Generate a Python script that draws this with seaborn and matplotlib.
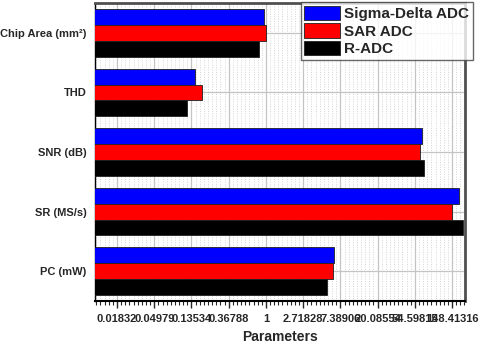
import numpy as np
import pandas as pd
import matplotlib
matplotlib.use("Agg")
import matplotlib.pyplot as plt
import matplotlib.ticker as mticker
import seaborn as sns

# values (log-e axis)
params = ["Chip Area (mm²)", "THD", "SNR (dB)", "SR (MS/s)", "PC (mW)"]
series = ["Sigma-Delta ADC", "SAR ADC", "R-ADC"]
sigma_delta = [0.95, 0.15, 66.6, 181.0, 6.3]
sar = [0.99, 0.18, 63.4, 148.0, 6.0]
r_adc = [0.83, 0.12, 70.0, 198.0, 5.1]
tick_labels = ["0.01832", "0.04979", "0.13534", "0.36788", "1",
               "2.71828", "7.38906", "20.08554", "54.59815", "148.41316"]

df = pd.DataFrame({
    "param": params * 3,
    "value": sigma_delta + sar + r_adc,
    "adc": [s for s in series for _ in params],
})

sns.set_style("white")
plt.rcParams["font.family"] = ["Liberation Sans", "DejaVu Sans"]
plt.rcParams["font.weight"] = "bold"

fig = plt.figure(figsize=(4.8, 3.46), dpi=100)
ax = fig.add_axes([0.198, 0.130, 0.771, 0.861])

sns.barplot(data=df, x="value", y="param", hue="adc", orient="h",
            palette=["#0000ff", "#ff0000", "#000000"], saturation=1,
            width=0.8, edgecolor="#202020", linewidth=0.6, ax=ax, zorder=3)

ax.set_xscale("log", base=np.e)
ax.set_xlim(np.exp(-4.59), np.exp(5.35))
ax.set_ylim(4.5, -0.5)

major = np.exp(np.arange(-4, 6))
ax.xaxis.set_major_locator(mticker.FixedLocator(major))
ax.xaxis.set_major_formatter(mticker.FixedFormatter(tick_labels))
minor = np.exp(np.arange(-41, 49) / 9.0)
ax.xaxis.set_minor_locator(mticker.FixedLocator(minor))
ax.xaxis.set_minor_formatter(mticker.NullFormatter())

ax.tick_params(axis="x", which="major", direction="out", length=5, width=1,
               labelsize=8, pad=4, bottom=True)
ax.tick_params(axis="x", which="minor", direction="out", length=3, width=0.8,
               bottom=True)
ax.tick_params(axis="y", length=0, labelsize=8, pad=6)
for lab in ax.get_xticklabels() + ax.get_yticklabels():
    lab.set_fontweight("bold")

ax.grid(which="major", axis="both", color="#c4c4c4", linewidth=0.9, zorder=0)
ax.grid(which="minor", axis="x", color="#d4d4d4", linewidth=0.7,
        linestyle=(0, (1, 1.5)), zorder=0)
ax.set_axisbelow(True)

for side in ["top", "right"]:
    ax.spines[side].set_color("#505050")
    ax.spines[side].set_linewidth(2)
ax.spines["bottom"].set_color("black")
ax.spines["bottom"].set_linewidth(1.5)
ax.spines["left"].set_color("black")
ax.spines["left"].set_linewidth(1)

ax.set_xlabel("Parameters", fontsize=10, fontweight="bold", labelpad=5)
ax.set_ylabel("")

leg = ax.legend(loc="upper right", bbox_to_anchor=(473 / 480, 1 - 2 / 346),
                bbox_transform=fig.transFigure, frameon=True, fancybox=False,
                prop={"weight": "bold", "size": 11}, handlelength=2.3,
                handleheight=1.05, labelspacing=0.15, handletextpad=0.3,
                borderpad=0.25, borderaxespad=0)
leg.get_frame().set_edgecolor("#404040")
leg.get_frame().set_linewidth(1)
leg.set_zorder(5)

fig.savefig("out.png", dpi=100)
